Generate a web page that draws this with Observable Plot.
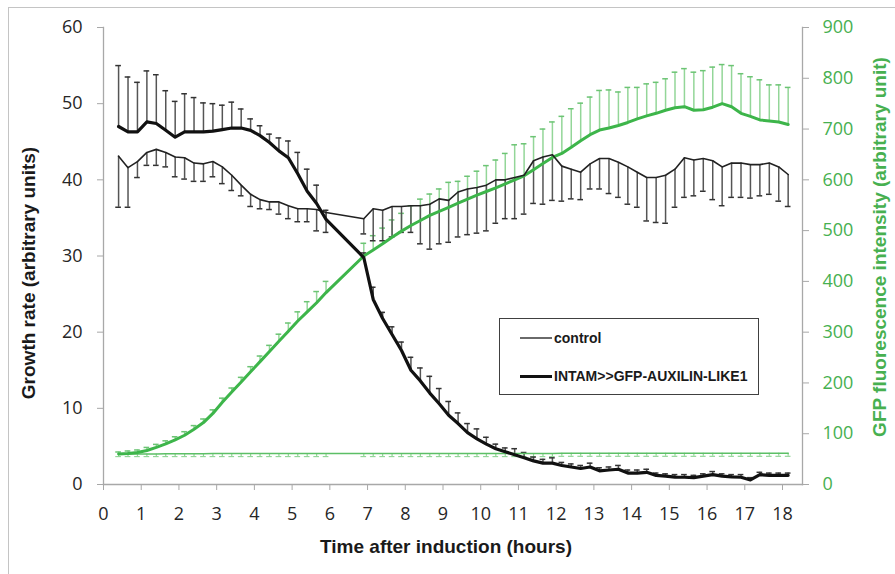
<!DOCTYPE html>
<html><head><meta charset="utf-8">
<script src="https://cdn.jsdelivr.net/npm/d3@7"></script>
<script src="https://cdn.jsdelivr.net/npm/@observablehq/plot@0.6"></script>
<style>
body{margin:0;background:#fff;}
#wrap{position:relative;width:895px;height:574px;overflow:hidden;background:#fff;}
#wrap svg{position:absolute;left:0;top:0;}
#border{position:absolute;left:8px;top:7px;width:900px;height:600px;border-left:1.5px solid #c4c4c4;border-top:1.5px solid #c4c4c4;box-sizing:border-box;}
#legend{position:absolute;left:499px;top:318px;width:260px;height:77px;border:1.5px solid #404040;background:#fff;box-sizing:border-box;font-family:"Liberation Sans",Arial,sans-serif;font-weight:bold;font-size:14px;color:#1a1a1a;}
.lrow{position:absolute;left:20px;height:20px;display:flex;align-items:center;}
.lsw{width:32px;margin-right:2px;}
</style></head>
<body><div id="wrap"></div>
<script>
// ---- data ----
const times = [0.4,0.65,0.9,1.15,1.4,1.65,1.9,2.15,2.4,2.65,2.9,3.15,3.4,3.65,3.9,4.15,4.4,4.65,4.9,5.15,5.4,5.65,5.9,6.15,6.4,6.65,6.9,7.15,7.4,7.65,7.9,8.15,8.4,8.65,8.9,9.15,9.4,9.65,9.9,10.15,10.4,10.65,10.9,11.15,11.4,11.65,11.9,12.15,12.4,12.65,12.9,13.15,13.4,13.65,13.9,14.15,14.4,14.65,14.9,15.15,15.4,15.65,15.9,16.15,16.4,16.65,16.9,17.15,17.4,17.65,17.9,18.15];

// growth rate, left axis
const ctrlGrowth = [43.1,41.6,42.4,43.6,44.0,43.6,43.0,42.9,42.2,42.1,42.4,41.7,40.6,39.3,38.1,37.4,37.1,37.1,36.6,36.2,36.2,36.1,35.7,null,null,null,34.9,36.2,36.0,36.5,36.5,36.6,36.6,36.8,37.5,37.3,38.4,38.8,39.0,39.3,40.0,40.0,40.3,40.6,42.5,43.0,43.3,41.8,41.4,41.0,42.1,42.8,42.8,42.3,41.7,41.0,40.3,40.3,40.6,41.4,42.9,42.6,42.8,42.5,41.7,42.2,42.2,42.0,42.0,42.2,41.7,40.7];
const ctrlGrowthLow = [36.4,36.4,40.3,41.9,41.9,41.7,40.4,40.1,39.8,39.8,40.4,39.5,38.6,37.9,36.5,36.2,36.1,35.5,34.9,34.5,34.5,33.3,33.1,null,null,null,32.9,32.0,32.0,32.5,33.1,33.1,31.6,30.9,31.6,31.8,32.5,32.8,33.0,33.3,34.3,34.9,34.9,35.5,36.9,36.8,37.3,37.2,37.5,37.4,38.8,38.8,38.2,37.7,36.8,36.4,34.6,34.4,34.3,36.4,37.7,37.9,38.5,37.4,36.6,37.7,37.7,37.6,37.9,38.1,37.2,36.5];
const intamGrowth = [47.0,46.3,46.3,47.6,47.4,46.5,45.6,46.3,46.3,46.3,46.4,46.6,46.8,46.8,46.5,45.8,44.9,43.8,42.9,40.8,38.5,36.9,34.8,null,null,null,29.8,24.3,21.8,19.7,17.6,15.0,13.6,12.0,10.6,9.1,8.0,6.8,6.0,5.3,4.7,4.3,3.9,3.5,3.1,2.8,2.8,2.5,2.3,2.1,2.3,1.8,1.9,2.0,1.5,1.5,1.6,1.2,1.1,0.96,0.95,0.9,1.1,1.3,1.1,1.0,0.95,0.6,1.3,1.2,1.2,1.2];
const intamGrowthHigh = [55.0,53.5,52.8,54.3,53.8,51.7,50.3,51.3,50.8,50.1,50.0,49.8,50.2,49.3,48.0,47.1,46.0,45.5,45.1,43.6,41.4,39.3,36.0,null,null,null,30.4,25.9,22.6,20.7,18.7,16.7,15.3,14.2,12.6,10.9,9.4,8.0,7.3,6.2,5.3,4.8,4.7,4.2,3.6,3.3,3.5,2.9,2.7,2.5,2.8,2.2,2.3,2.5,1.9,1.9,2.0,1.5,1.4,1.3,1.3,1.2,1.4,1.7,1.4,1.3,1.3,0.9,1.6,1.5,1.5,1.5];

// GFP fluorescence, right axis
const gfpIntam = [60,61,63,67,73,80,88,97,109,122,140,162,182,202,222,242,262,282,302,322,340,358,378,null,null,null,450,462,474,487,499,510,520,530,538,546,554,562,570,577,584,592,600,608,620,632,644,652,664,677,689,698,702,707,713,720,726,731,737,742,744,737,738,743,750,744,731,725,718,716,714,709];
const gfpIntamHigh = [64,66,68,73,79,86,94,104,116,129,147,170,190,211,232,253,274,296,318,340,360,380,400,null,null,null,475,490,505,521,534,549,562,572,582,595,597,607,617,628,639,652,669,671,685,700,714,725,740,751,763,776,777,773,782,782,789,792,799,812,819,812,815,822,827,825,809,803,797,787,787,782];
const gfpCtrl = [60,60,60,60,60,60.5,60.5,60.5,60.5,60.5,61,61,61,61,61,61,61,61,61,61,61,61,61,null,null,null,61,61,61,61,61,61,61,61,61,61,61,61,61,61,61,61,61,61,61,61,61,61.5,61.5,61.5,61.5,61.5,61.5,61.5,61.5,61.5,61.5,61.5,61.5,61.5,61.5,61.5,61.5,61.5,61.5,61.5,61.5,61.5,61.5,61.5,61.5,61.5];
const gfpCtrlLow = [55,55,55,55,55,55,55,55,55,55,55,55,55,55,55,55,55,55,55,55,55,55,55,null,null,null,55,55,55,55,55,55,55,55,55,55,55,55,55,55,55,55,55,55,55,55,55,55.5,55.5,55.5,55.5,55.5,55.5,55.5,55.5,55.5,55.5,55.5,55.5,55.5,55.5,55.5,55.5,55.5,55.5,55.5,55.5,55.5,55.5,55.5,55.5,55.5];

const xTicks = [0,1,2,3,4,5,6,7,8,9,10,11,12,13,14,15,16,17,18];
const leftTicks = [0,10,20,30,40,50,60];
const rightTicks = [0,100,200,300,400,500,600,700,800,900];
const leftMax = 60, rightMax = 900;
const xTitle = "Time after induction (hours)";
const leftTitle = "Growth rate (arbitrary units)";
const rightTitle = "GFP fluorescence intensity (arbitrary unit)";
const legendLabels = ["control", "INTAM>>GFP-AUXILIN-LIKE1"];

// ---- build table ----
const k = leftMax / rightMax; // right-axis value -> left-axis units
const rows = times.map((t, i) => ({
  t,
  cg: ctrlGrowth[i], cgl: ctrlGrowthLow[i],
  ig: intamGrowth[i], igh: intamGrowthHigh[i],
  gi: gfpIntam[i] == null ? null : gfpIntam[i] * k,
  gih: gfpIntamHigh[i] == null ? null : gfpIntamHigh[i] * k,
  gc: gfpCtrl[i] == null ? null : gfpCtrl[i] * k,
  gcl: gfpCtrlLow[i] == null ? null : gfpCtrlLow[i] * k
}));
const ok = key => rows.filter(d => d[key] != null);

const GREEN = "#3db54a", LGREEN = "#93d698", TXTGREEN = "#47b050", AXIS = "#a8a8a8";
const cap = 0.075;
const boldFont = {fontFamily: "Liberation Sans, Arial, sans-serif", fontWeight: "bold", fontSize: 19, textAnchor: "middle", lineAnchor: "middle"};

function bars(data, a, b, stroke, capStroke, w) {
  return [
    Plot.ruleX(data, {x: "t", y1: a, y2: b, stroke, strokeWidth: w}),
    Plot.ruleY(data, {y: b, x1: d => d.t - cap, x2: d => d.t + cap, stroke: capStroke, strokeWidth: w})
  ];
}

const chart = Plot.plot({
  width: 895, height: 574,
  marginLeft: 103, marginRight: 93, marginTop: 27, marginBottom: 90,
  x: {domain: [0, 18.53]},
  y: {domain: [0, leftMax]},
  style: {fontFamily: "Open Sans, sans-serif", fontSize: "18px", background: "transparent", color: "#262626"},
  marks: [
    Plot.frame({anchor: "left", stroke: AXIS, strokeWidth: 1.3}),
    Plot.frame({anchor: "bottom", stroke: AXIS, strokeWidth: 1.3}),
    Plot.frame({anchor: "right", stroke: AXIS, strokeWidth: 1.3}),
    Plot.axisX({ticks: xTicks, tickSize: 6, tickPadding: 17, stroke: AXIS, fill: "#262626", label: null, tickFormat: d => d}),
    Plot.axisY({anchor: "left", ticks: leftTicks, tickSize: 6, tickPadding: 15, stroke: AXIS, fill: "#262626", label: null}),
    Plot.axisY({anchor: "right", ticks: rightTicks.map(v => v * k), tickSize: 6, tickPadding: 14, stroke: AXIS, fill: TXTGREEN, label: null, tickFormat: d => Math.round(d / k)}),
    ...bars(ok("gc"), "gc", "gcl", LGREEN, LGREEN, 1.2),
    ...bars(ok("gi"), "gi", "gih", LGREEN, "#6cc474", 1.5),
    ...bars(ok("cg"), "cg", "cgl", "#555", "#333", 1.5),
    ...bars(ok("ig"), "ig", "igh", "#555", "#333", 1.5),
    Plot.line(ok("gc"), {x: "t", y: "gc", stroke: "#5cbf66", strokeWidth: 1.6}),
    Plot.line(ok("gi"), {x: "t", y: "gi", stroke: GREEN, strokeWidth: 3}),
    Plot.line(ok("cg"), {x: "t", y: "cg", stroke: "#222", strokeWidth: 1.6}),
    Plot.line(ok("ig"), {x: "t", y: "ig", stroke: "#111", strokeWidth: 3.2}),
    Plot.text([xTitle], {frameAnchor: "bottom", text: d => d, dy: 62, dx: -7, fill: "#1a1a1a", ...boldFont}),
    Plot.text([leftTitle], {frameAnchor: "left", text: d => d, rotate: -90, dx: -75, dy: 17, fill: "#1a1a1a", ...boldFont}),
    Plot.text([rightTitle], {frameAnchor: "right", text: d => d, rotate: -90, dx: 77, dy: -9, fill: TXTGREEN, ...boldFont})
  ]
});

const wrap = document.getElementById("wrap");
wrap.appendChild(chart);
const border = document.createElement("div");
border.id = "border";
wrap.appendChild(border);

// legend
const legend = document.createElement("div");
legend.id = "legend";
const swatches = [{color: "#6a6a6a", w: 2.5, top: 9}, {color: "#111", w: 3.5, top: 47}];
legendLabels.forEach((lab, i) => {
  const r = document.createElement("div");
  r.className = "lrow";
  r.style.top = swatches[i].top + "px";
  const s = document.createElement("div");
  s.className = "lsw";
  s.style.borderTop = swatches[i].w + "px solid " + swatches[i].color;
  r.appendChild(s);
  const tx = document.createElement("span");
  tx.textContent = lab;
  r.appendChild(tx);
  legend.appendChild(r);
});
wrap.appendChild(legend);
</script></body></html>
